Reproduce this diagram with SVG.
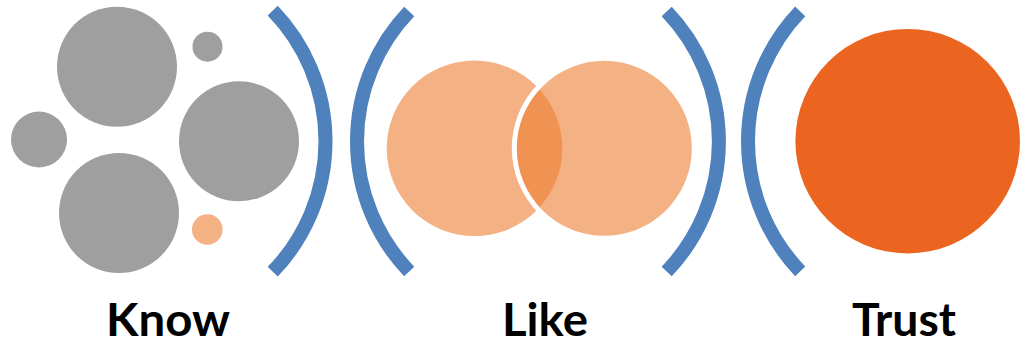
<svg xmlns="http://www.w3.org/2000/svg" width="1025" height="346" viewBox="0 0 1025 346">
<style>
.g{fill:#9F9F9F}
.lo{fill:#ED7D31;fill-opacity:0.6}
.arc{fill:none;stroke:#4F81BD;stroke-width:14;stroke-linecap:butt}
.lbl{font-family:Lato,"Liberation Sans",sans-serif;font-weight:bold;font-size:45px;fill:#000;text-anchor:middle}
</style>
<rect width="1025" height="346" fill="#fff"/>
<g id="know">
<circle class="g" cx="117" cy="66.7" r="60"/>
<circle class="g" cx="207.5" cy="46.7" r="15"/>
<circle class="g" cx="39" cy="139.5" r="28"/>
<circle class="g" cx="239" cy="141.3" r="60"/>
<circle class="g" cx="119" cy="213" r="60"/>
<circle cx="207.3" cy="229.5" r="15.3" fill="#F4B183"/>
<text class="lbl" x="168" y="336" textLength="124" lengthAdjust="spacingAndGlyphs">Know</text>
</g>
<g id="like">
<circle class="lo" cx="474.5" cy="148.3" r="87.8"/>
<circle class="lo" cx="604.3" cy="148.3" r="90" stroke="#fff" stroke-width="5"/>
<text class="lbl" x="545" y="336" textLength="86" lengthAdjust="spacingAndGlyphs">Like</text>
</g>
<g id="trust">
<circle cx="907.7" cy="141.2" r="112.3" fill="#EB6420"/>
<text class="lbl" x="904" y="336" textLength="104" lengthAdjust="spacingAndGlyphs">Trust</text>
</g>
<g id="connectors">
<path class="arc" d="M272.7,10.7 A187.7,187.7 0 0 1 272.7,271.7"/>
<path class="arc" d="M409.2,11.5 A188,188 0 0 0 409.2,271.5"/>
<path class="arc" d="M666.7,11.5 A188,188 0 0 1 666.7,271.5"/>
<path class="arc" d="M800.2,11.3 A188,188 0 0 0 800.2,271.3"/>
</g>
</svg>
